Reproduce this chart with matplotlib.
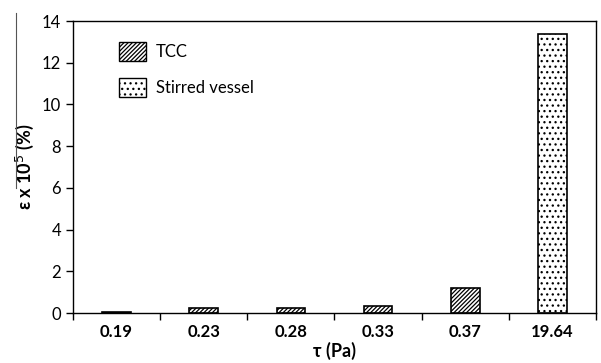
import numpy as np
import matplotlib.pyplot as plt
from matplotlib.lines import Line2D
from matplotlib.patches import Patch

plt.rcParams['font.family'] = ['Lato', 'DejaVu Sans']
plt.rcParams['hatch.linewidth'] = 0.9

categories = ["0.19", "0.23", "0.28", "0.33", "0.37", "19.64"]
tcc = [0.05, 0.22, 0.22, 0.33, 1.2, 0]
stirred = [0, 0, 0, 0, 0, 13.4]

fig = plt.figure(figsize=(6.01, 3.63), dpi=100)
ax = fig.add_axes([73/601, 1 - 313/363, (596-73)/601, (313-21)/363])

x = np.arange(len(categories))
w = 0.33
ax.bar(x[:5], tcc[:5], w, color='white', edgecolor='black', hatch='////////', linewidth=1.2)
ax.bar(x[5:], stirred[5:], w, color='white', edgecolor='black', hatch='...', linewidth=1.2)

ax.set_xlim(-0.5, len(categories) - 0.5)
ax.set_ylim(0, 14)
ax.set_yticks(range(0, 15, 2))
ax.set_xticks(x)
ax.set_xticklabels(categories, fontweight='bold', fontsize=12)
ax.set_xticks(np.arange(-0.5, len(categories)), minor=True)
ax.tick_params(axis='x', which='major', length=0, pad=8)
ax.tick_params(axis='x', which='minor', length=5, width=1)
ax.tick_params(axis='y', length=5, width=1, labelsize=12)
for s in ax.spines.values():
    s.set_linewidth(1.0)

ax.set_xlabel("τ (Pa)", fontweight='bold', fontsize=13, labelpad=1)
ax.set_ylabel("ε x 10$^5$ (%)", fontweight='bold', fontsize=13, labelpad=4)

handles = [Patch(facecolor='white', edgecolor='black', hatch='////////', label='TCC'),
           Patch(facecolor='white', edgecolor='black', hatch='...', label='Stirred vessel')]
ax.legend(handles=handles, loc='upper left', bbox_to_anchor=(0.06, 0.98), frameon=False,
          fontsize=12, handlelength=1.6, handleheight=1.4, labelspacing=1.0, handletextpad=0.6)

fig.add_artist(Line2D([16/601, 16/601], [1 - 13/363, 1 - 188/363], color='#555555', linewidth=0.8))

fig.savefig("out.png", dpi=100)
